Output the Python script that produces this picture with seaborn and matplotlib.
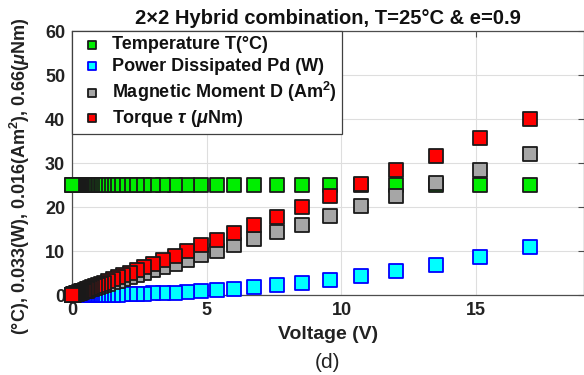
import matplotlib
matplotlib.use("Agg")
import matplotlib.pyplot as plt
import seaborn as sns
import pandas as pd

# Supply voltage sweep (V)
voltage = [17.0, 15.15, 13.5, 12.04, 10.73, 9.56, 8.52, 7.59, 6.77, 6.03,
           5.38, 4.79, 4.27, 3.81, 3.39, 3.02, 2.69, 2.4, 2.14, 1.91,
           1.7, 1.52, 1.35, 1.2, 1.07, 0.96, 0.85, 0.76, 0.68, 0.6,
           0.54, 0.48, 0.43, 0.38, 0.34, 0.3, 0.27, 0.24, 0.21, 0.19,
           0.17, 0.15, 0.13, 0.12, 0.11, 0.1, 0.08, 0.07, 0.06, 0.05,
           0.04, 0.03, 0.02, 0.01, 0.0]

# Temperature (°C)
temperature = [25.0] * len(voltage)

# Power dissipated, scaled by 1/0.033 W
power = [10.9, 8.65, 6.87, 5.47, 4.34, 3.45, 2.74, 2.17, 1.73, 1.37,
         1.09, 0.865, 0.687, 0.547, 0.433, 0.344, 0.273, 0.217, 0.173, 0.138,
         0.109, 0.087, 0.069, 0.054, 0.043, 0.035, 0.027, 0.022, 0.017, 0.014,
         0.011, 0.009, 0.007, 0.005, 0.004, 0.003, 0.003, 0.002, 0.002, 0.001,
         0.001, 0.001, 0.001, 0.001, 0.0, 0.0, 0.0, 0.0, 0.0, 0.0,
         0.0, 0.0, 0.0, 0.0, 0.0]

# Magnetic moment, scaled by 1/0.016 Am^2
moment = [32.0, 28.5, 25.4, 22.6, 20.2, 18.0, 16.0, 14.3, 12.7, 11.3,
          10.1, 9.0, 8.03, 7.16, 6.37, 5.68, 5.06, 4.51, 4.02, 3.59,
          3.2, 2.86, 2.54, 2.26, 2.01, 1.8, 1.6, 1.43, 1.28, 1.13,
          1.02, 0.9, 0.81, 0.71, 0.64, 0.56, 0.51, 0.45, 0.39, 0.36,
          0.32, 0.28, 0.24, 0.23, 0.21, 0.19, 0.15, 0.13, 0.11, 0.09,
          0.08, 0.06, 0.04, 0.02, 0.0]

# Torque, scaled by 1/0.66 uNm
torque = [40.0, 35.6, 31.7, 28.3, 25.2, 22.5, 20.0, 17.8, 15.9, 14.2,
          12.6, 11.3, 10.0, 8.95, 7.97, 7.10, 6.32, 5.64, 5.03, 4.49,
          4.0, 3.57, 3.17, 2.82, 2.51, 2.26, 2.0, 1.79, 1.6, 1.41,
          1.27, 1.13, 1.01, 0.89, 0.8, 0.71, 0.63, 0.56, 0.49, 0.45,
          0.4, 0.35, 0.31, 0.28, 0.26, 0.24, 0.19, 0.16, 0.14, 0.12,
          0.09, 0.07, 0.05, 0.02, 0.0]

x_ticks = [0, 5, 10, 15]
y_ticks = [0, 10, 20, 30, 40, 50, 60]

series = [
    ("Temperature T(°C)", temperature, "#00ee00", "#1a1a1a"),
    ("Power Dissipated Pd (W)", power, "#00ffff", "#0000ff"),
    ("Magnetic Moment D (Am$^{\\mathbf{2}}$)", moment, "#a6a6a6", "#1a1a1a"),
    ("Torque $\\tau$ ($\\mu$Nm)", torque, "#ff0000", "#1a1a1a"),
]

sns.set_theme(style="whitegrid")
plt.rcParams["font.family"] = ["Liberation Sans", "DejaVu Sans"]
plt.rcParams["font.weight"] = "bold"
plt.rcParams["mathtext.fontset"] = "custom"
plt.rcParams["mathtext.rm"] = "Liberation Sans:bold"
plt.rcParams["mathtext.bf"] = "Liberation Sans:bold"
plt.rcParams["mathtext.it"] = "Liberation Sans:italic:bold"

fig = plt.figure(figsize=(5.84, 3.75), dpi=100)
ax = fig.add_axes([0.1233, 0.2133, 0.8767, 0.704])

for label, values, face, edge in series:
    df = pd.DataFrame({"Voltage": voltage, "Value": values})
    sns.scatterplot(data=df, x="Voltage", y="Value", marker="s", s=100,
                    color=face, edgecolor=edge, linewidth=1.3,
                    clip_on=False, ax=ax, label=label, zorder=3)

ax.set_xlim(0, 19)
ax.set_ylim(0, 60)
ax.set_xticks(x_ticks)
ax.set_yticks(y_ticks)
ax.tick_params(axis="both", which="both", direction="in", length=4,
               width=0.8, color="0.3", top=True, right=True,
               labelsize=13, labelcolor="#222222", pad=5)
for lbl in ax.get_xticklabels() + ax.get_yticklabels():
    lbl.set_fontweight("bold")
ax.grid(True, color="0.87", linewidth=0.8)
for sp in ax.spines.values():
    sp.set_color("0.3")
    sp.set_linewidth(0.9)

ax.set_xlabel("Voltage (V)", fontsize=14, fontweight="bold",
              color="#222222", labelpad=5)
ax.set_ylabel("")
ax.set_title("2×2 Hybrid combination, T=25°C & e=0.9", fontsize=14.5,
             fontweight="bold", color="#111111", pad=5)

fig.text(20 / 584, 0.53,
         "(°C), 0.033(W), 0.016(Am$^{\\mathbf{2}}$), 0.66($\\mu$Nm)",
         rotation=90, ha="center", va="center", fontsize=13,
         fontweight="bold", color="#222222")
fig.text(327 / 584, 12 / 375, "(d)", ha="center", va="center",
         fontsize=15, fontweight="normal", color="#222222")

leg = ax.legend(loc="upper left", borderaxespad=0, fontsize=13,
                frameon=True, fancybox=False, framealpha=1,
                edgecolor="0.25", borderpad=0.3, handlelength=1.6,
                handletextpad=0.3, labelspacing=0.25, markerscale=0.6,
                scatterpoints=1)
leg.get_frame().set_linewidth(0.9)
for t in leg.get_texts():
    t.set_fontweight("bold")
    t.set_color("#111111")

fig.savefig("out.png", dpi=100)
